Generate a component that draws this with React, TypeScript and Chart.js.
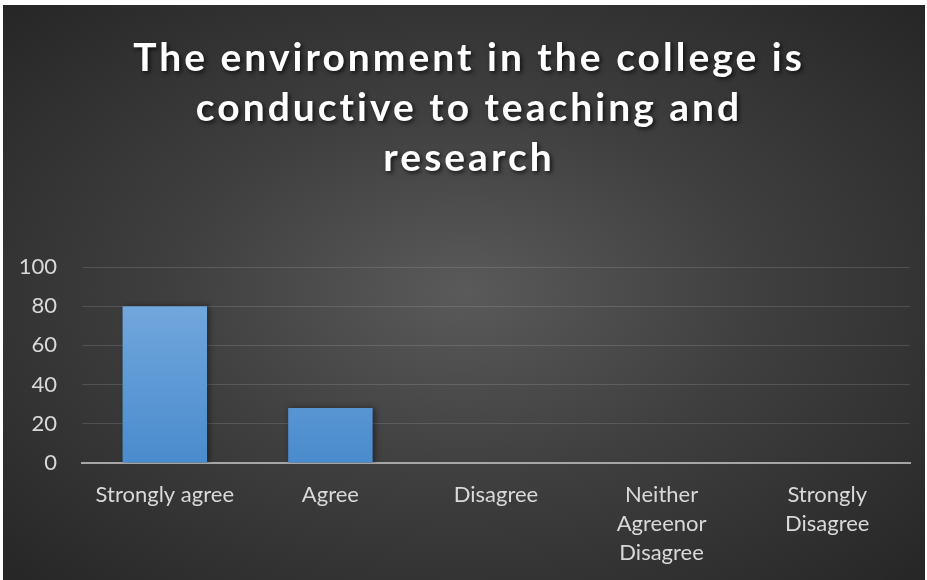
import React, { useEffect, useRef } from "react";
import { Chart, registerables } from "chart.js";

Chart.register(...registerables);

const titleLines = ["The environment in the college is", "conductive to teaching and", "research"];
const categories: (string | string[])[] = [
  "Strongly agree",
  "Agree",
  "Disagree",
  ["Neither", "Agreenor", "Disagree"],
  ["Strongly", "Disagree"],
];
const values = [80, 28, 0, 0, 0];
const yTicks = { min: 0, max: 100, step: 20 };

const titlePlugin = {
  id: "customTitle",
  afterDraw(chart: any) {
    const ctx = chart.ctx as CanvasRenderingContext2D;
    ctx.save();
    ctx.font = "bold 39px Lato";
    (ctx as any).letterSpacing = "3px";
    ctx.fillStyle = "#ffffff";
    ctx.textAlign = "center";
    ctx.textBaseline = "middle";
    ctx.shadowColor = "rgba(0,0,0,0.7)";
    ctx.shadowBlur = 4;
    ctx.shadowOffsetX = 2;
    ctx.shadowOffsetY = 2;
    const cx = chart.width / 2 + 5;
    titleLines.forEach((l, i) => ctx.fillText(l, cx, 53 + i * 50));
    ctx.restore();
  },
};

const shadowPlugin = {
  id: "barShadow",
  beforeDatasetsDraw(chart: any) {
    const ctx = chart.ctx;
    ctx.save();
    ctx.shadowColor = "rgba(0,0,0,0.45)";
    ctx.shadowBlur = 6;
    ctx.shadowOffsetX = 2;
    ctx.shadowOffsetY = 0;
  },
  afterDatasetsDraw(chart: any) {
    chart.ctx.restore();
  },
};

export default function App() {
  const ref = useRef<HTMLCanvasElement>(null);
  useEffect(() => {
    const chart = new Chart(ref.current!, {
      type: "bar",
      data: {
        labels: categories,
        datasets: [
          {
            data: values,
            backgroundColor: (c: any) => {
              const area = c.chart.chartArea;
              if (!area) return "#5b9bd5";
              const g = c.chart.ctx.createLinearGradient(0, area.top, 0, area.bottom);
              g.addColorStop(0, "#7aaee0");
              g.addColorStop(1, "#4a8bcd");
              return g;
            },
            borderWidth: 0,
            categoryPercentage: 0.51,
            barPercentage: 1,
          },
        ],
      },
      options: {
        animation: false,
        responsive: false,
        maintainAspectRatio: false,
        layout: { padding: { top: 262, left: 0, right: 15, bottom: 0 } },
        plugins: { legend: { display: false }, title: { display: false }, tooltip: { enabled: false } },
        scales: {
          x: {
            z: 1,
            afterFit: (s: any) => {
              s.height = 117;
            },
            grid: { display: false, drawTicks: false },
            border: { display: true, color: "#a6a6a6", width: 2 },
            ticks: {
              color: "#d9d9d9",
              font: { family: "Lato", size: 22, lineHeight: 1.33 },
              padding: 17,
              maxRotation: 0,
              autoSkip: false,
            },
          },
          y: {
            min: yTicks.min,
            max: yTicks.max,
            afterFit: (s: any) => {
              s.width = 79;
            },
            grid: { color: "rgba(255,255,255,0.13)", drawTicks: false, lineWidth: 1 },
            border: { display: false },
            ticks: { stepSize: yTicks.step, color: "#d9d9d9", font: { family: "Lato", size: 22 }, padding: 25 },
          },
        },
      },
      plugins: [titlePlugin, shadowPlugin],
    });
    return () => chart.destroy();
  }, []);
  return (
    <div
      style={{
        position: "fixed",
        left: 3,
        top: 5,
        width: 922,
        height: 575,
        background: "radial-gradient(ellipse at 50% 50%, #5a5a5a 0%, #3f3f3f 45%, #262626 100%)",
      }}
    >
      <canvas ref={ref} width={922} height={575} style={{ display: "block" }} />
    </div>
  );
}
